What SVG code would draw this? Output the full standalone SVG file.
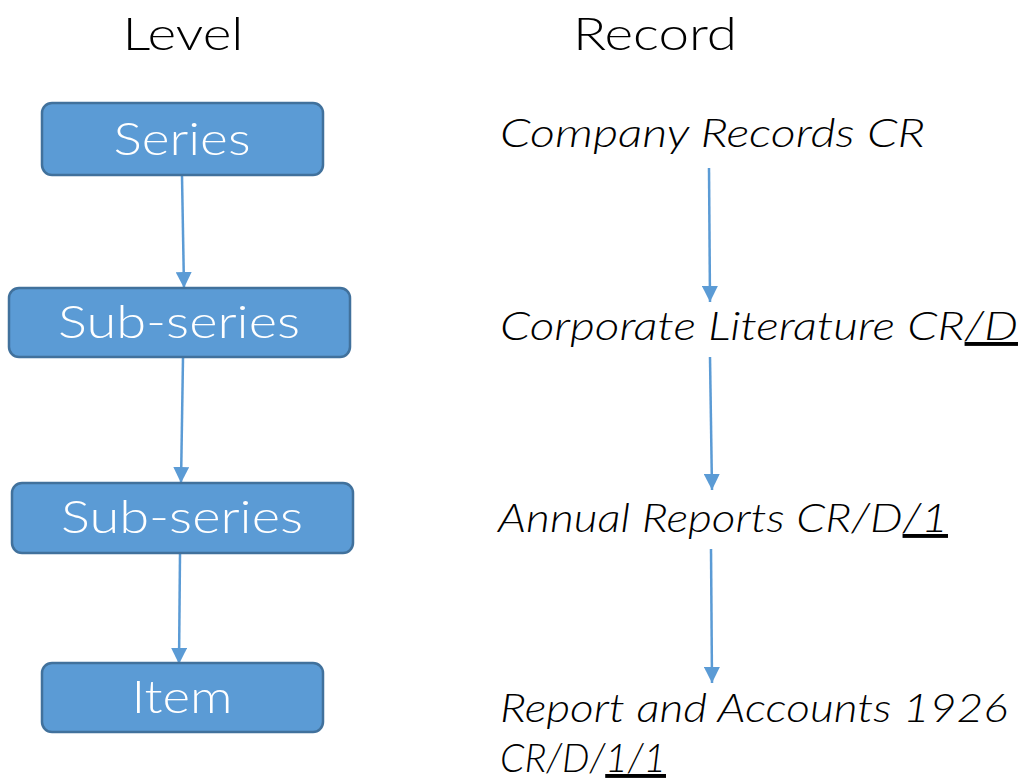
<svg xmlns="http://www.w3.org/2000/svg" width="1026" height="779" viewBox="0 0 1026 779">
<style>
.box{fill:#5B9BD5;stroke:#41719C;stroke-width:2.5}
.bt{fill:#ffffff;font-family:Lato,"Open Sans",sans-serif;font-weight:300;font-size:46px;text-anchor:middle}
.hd{fill:#000000;font-family:Lato,"Open Sans",sans-serif;font-weight:300;font-size:46px;text-anchor:middle}
.rt{fill:#000000;font-family:Lato,"Open Sans",sans-serif;font-weight:300;font-style:italic;font-size:39px}
.u{text-decoration:underline}
.ln{stroke:#5B9BD5;stroke-width:2.5;fill:none;marker-end:url(#ah)}
</style>
<defs>
<marker id="ah" markerUnits="userSpaceOnUse" markerWidth="16" markerHeight="16" viewBox="0 0 16 16" refX="16" refY="8" orient="auto">
<path d="M0,0 L16,8 L0,16 Z" fill="#5B9BD5"/>
</marker>
</defs>
<rect width="1026" height="779" fill="#ffffff"/>
<text class="hd" x="183" y="50" textLength="121" lengthAdjust="spacingAndGlyphs">Level</text>
<text class="hd" x="655" y="50" textLength="164" lengthAdjust="spacingAndGlyphs">Record</text>
<g id="connectors">
<line class="ln" x1="182" y1="176" x2="184" y2="288"/>
<line class="ln" x1="183" y1="358" x2="181" y2="483"/>
<line class="ln" x1="180" y1="554" x2="179" y2="664"/>
<line class="ln" x1="709" y1="168" x2="710" y2="302"/>
<line class="ln" x1="710" y1="357" x2="712" y2="490"/>
<line class="ln" x1="711" y1="549" x2="712" y2="683"/>
</g>
<g id="n-series">
<rect class="box" x="42" y="103" width="281" height="72" rx="10"/>
<text class="bt" x="182" y="155" textLength="137" lengthAdjust="spacingAndGlyphs">Series</text>
</g>
<g id="n-subseries1">
<rect class="box" x="9" y="288" width="341" height="69" rx="10"/>
<text class="bt" x="179" y="338" textLength="242" lengthAdjust="spacingAndGlyphs">Sub-series</text>
</g>
<g id="n-subseries2">
<rect class="box" x="12" y="483" width="341" height="70" rx="10"/>
<text class="bt" x="182" y="533" textLength="242" lengthAdjust="spacingAndGlyphs">Sub-series</text>
</g>
<g id="n-item">
<rect class="box" x="42" y="663" width="281" height="69" rx="10"/>
<text class="bt" x="182" y="713" textLength="101" lengthAdjust="spacingAndGlyphs">Item</text>
</g>
<g id="r-company">
<text class="rt" x="500" y="147" textLength="425" lengthAdjust="spacingAndGlyphs">Company Records CR</text>
</g>
<g id="r-corporate">
<text class="rt" x="500" y="340" textLength="518" lengthAdjust="spacingAndGlyphs">Corporate Literature CR<tspan class="u">/D</tspan></text>
</g>
<g id="r-annual">
<text class="rt" x="498" y="532" textLength="450" lengthAdjust="spacingAndGlyphs">Annual Reports CR/D<tspan class="u">/1</tspan></text>
</g>
<g id="r-report">
<text class="rt" x="500" y="722" textLength="508" lengthAdjust="spacingAndGlyphs">Report and Accounts 1926</text>
<text class="rt" x="500" y="772" textLength="166" lengthAdjust="spacingAndGlyphs">CR/D/<tspan class="u">1/1</tspan></text>
</g>
</svg>
